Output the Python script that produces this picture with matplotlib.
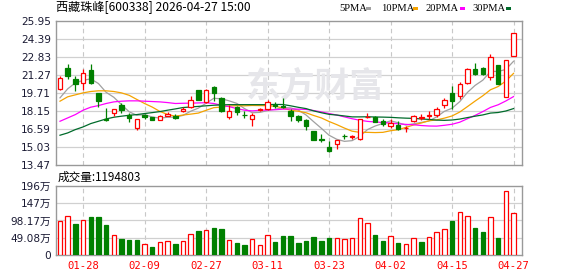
import matplotlib
matplotlib.use("Agg")
import matplotlib.pyplot as plt
import numpy as np

# ---------------- data ----------------
dates_labels = ["01-28", "02-09", "02-27", "03-11", "03-23", "04-02", "04-15", "04-27"]
label_idx = [3, 11, 19, 27, 35, 43, 51, 59]

opens = [20.07, 21.90, 20.94, 20.59, 21.72, 19.72, 17.49, 17.99, 18.68, 17.81,
         16.68, 17.78, 17.61, 17.41, 17.75, 17.75, 18.16, 18.51, 19.93, 18.91,
         20.19, 19.29, 17.61, 18.51, 17.84, 17.46, 18.27, 18.28, 18.68, 18.62,
         18.13, 17.70, 17.35, 16.45, 15.73, 15.00, 15.29, 16.01, 15.90, 15.73,
         17.61, 17.61, 17.26, 16.83, 16.94, 16.65, 17.32, 17.55, 17.70, 17.78,
         18.68, 19.72, 19.43, 20.59, 21.75, 21.84, 21.11, 22.10, 19.38, 22.91]
highs = [21.17, 22.19, 21.14, 21.81, 22.19, 19.72, 18.45, 18.33, 18.80, 17.99,
         17.49, 17.93, 17.61, 17.84, 18.04, 17.93, 18.51, 19.49, 20.01, 20.07,
         20.30, 19.38, 18.71, 18.62, 18.13, 17.99, 18.45, 19.14, 18.91, 19.29,
         18.28, 17.84, 17.46, 16.45, 16.16, 15.58, 15.61, 16.19, 16.10, 17.46,
         17.99, 17.75, 17.46, 17.46, 17.29, 16.89, 17.78, 17.90, 18.19, 18.51,
         19.29, 20.30, 20.68, 21.90, 22.33, 21.93, 23.05, 22.10, 22.59, 24.94]
lows = [19.96, 20.94, 19.87, 20.01, 20.53, 18.51, 17.26, 17.70, 17.96, 17.18,
        16.54, 17.49, 17.35, 17.35, 17.70, 17.49, 18.07, 18.39, 19.10, 18.86,
        18.99, 18.04, 17.49, 17.84, 17.55, 16.89, 18.13, 18.22, 18.42, 18.42,
        17.26, 17.20, 16.54, 15.61, 15.44, 14.57, 14.86, 15.73, 15.73, 15.61,
        17.52, 17.18, 16.89, 16.65, 16.54, 16.31, 17.23, 17.35, 17.46, 17.64,
        18.42, 18.28, 19.23, 20.53, 21.23, 21.29, 20.80, 20.53, 19.38, 22.91]
closes = [21.03, 21.17, 20.45, 21.46, 20.59, 18.99, 17.35, 18.33, 18.22, 17.52,
          17.46, 17.61, 17.35, 17.70, 17.93, 17.52, 18.36, 19.12, 19.10, 20.01,
          19.67, 18.13, 18.19, 18.04, 17.78, 17.84, 18.30, 18.97, 18.62, 18.51,
          17.70, 17.35, 16.89, 15.67, 15.64, 14.71, 15.61, 15.96, 15.99, 17.46,
          17.67, 17.18, 17.06, 17.12, 16.60, 16.71, 17.70, 17.67, 17.78, 18.33,
          19.12, 19.06, 20.53, 21.75, 21.40, 21.37, 22.85, 20.53, 22.59, 24.94]
volumes = [96.2, 110.0, 88.6, 99.0, 107.5, 107.5, 85.8, 56.6, 45.3, 42.4,
           42.4, 31.1, 22.6, 36.8, 39.6, 31.1, 39.6, 59.4, 67.9, 70.7,
           76.4, 73.6, 42.4, 33.9, 28.3, 45.3, 28.3, 56.6, 36.8, 53.7,
           53.7, 33.9, 39.6, 50.9, 39.6, 48.1, 48.1, 45.3, 48.1, 104.7,
           90.5, 56.6, 39.6, 53.7, 33.9, 31.1, 48.1, 36.8, 50.9, 65.1,
           73.6, 96.2, 121.6, 110.3, 76.4, 65.1, 107.5, 48.1, 181.0, 119.5]

ma5 = [19.29, 20.07, 20.59, 20.80, 20.94, 20.53, 19.77, 19.34, 18.70, 18.08,
       17.78, 17.83, 17.63, 17.53, 17.61, 17.62, 17.77, 18.13, 18.40, 18.82,
       19.25, 19.21, 19.03, 18.81, 18.36, 18.00, 18.03, 18.19, 18.30, 18.45,
       18.42, 18.23, 17.81, 17.22, 16.65, 16.05, 15.70, 15.52, 15.58, 15.95,
       16.54, 16.85, 17.07, 17.30, 17.13, 16.93, 17.04, 17.16, 17.29, 17.64,
       18.12, 18.39, 18.96, 19.76, 20.37, 20.82, 21.58, 21.58, 21.75, 22.46]
ma10 = [19.00, 19.38, 19.55, 19.72, 19.84, 19.90, 19.90, 19.84, 19.72, 19.51,
        19.15, 18.80, 18.49, 18.11, 17.85, 17.70, 17.80, 17.88, 17.97, 18.21,
        18.44, 18.49, 18.58, 18.61, 18.60, 18.63, 18.62, 18.61, 18.56, 18.41,
        18.21, 18.13, 18.00, 17.76, 17.55, 17.24, 16.97, 16.67, 16.40, 16.30,
        16.30, 16.28, 16.30, 16.44, 16.53, 16.73, 16.94, 17.11, 17.30, 17.38,
        17.53, 17.72, 18.06, 18.53, 19.01, 19.47, 19.99, 20.27, 20.75, 21.41]
ma20 = [17.26, 17.55, 17.84, 18.22, 18.48, 18.62, 18.80, 18.94, 19.00, 19.03,
        19.03, 19.00, 18.97, 18.94, 18.88, 18.80, 18.82, 18.83, 18.85, 18.87,
        18.80, 18.65, 18.53, 18.36, 18.22, 18.16, 18.21, 18.24, 18.26, 18.31,
        18.32, 18.31, 18.29, 18.19, 18.07, 17.93, 17.80, 17.64, 17.48, 17.35,
        17.25, 17.20, 17.15, 17.10, 17.04, 16.99, 16.96, 16.89, 16.85, 16.84,
        16.91, 17.00, 17.18, 17.48, 17.77, 18.10, 18.46, 18.69, 19.02, 19.40]
ma30 = [16.05, 16.25, 16.54, 16.77, 17.06, 17.26, 17.46, 17.61, 17.70, 17.78,
        17.84, 17.93, 18.01, 18.10, 18.22, 18.33, 18.45, 18.50, 18.55, 18.60,
        18.65, 18.68, 18.70, 18.70, 18.70, 18.70, 18.70, 18.70, 18.72, 18.71,
        18.60, 18.47, 18.36, 18.16, 18.00, 17.86, 17.80, 17.72, 17.64, 17.64,
        17.65, 17.63, 17.62, 17.60, 17.56, 17.53, 17.51, 17.46, 17.42, 17.36,
        17.34, 17.37, 17.45, 17.58, 17.70, 17.81, 17.97, 18.02, 18.15, 18.36]

price_ticks = [13.47, 15.03, 16.59, 18.15, 19.71, 21.27, 22.83, 24.39, 25.95]
vol_ticks = [0, 49.08, 98.17, 147.25, 196.33]
vol_tick_labels = ["0", "49.08万", "98.17万", "147万", "196万"]

title_text = "西藏珠峰[600338] 2026-04-27 15:00"
vol_text = "成交量:1194803"
watermark = "东方财富"
ma_names = ["5PMA", "10PMA", "20PMA", "30PMA"]

# ---------------- style ----------------
plt.rcParams['font.family'] = ['DejaVu Sans', 'Noto Sans CJK SC']
RED = "#ff0000"
GREEN = "#008000"
MA_COLORS = ["#a0a0a0", "#f5a300", "#ff00ff", "#006b2b"]
GRID = "#d0d0d0"
FRAME = "#999999"
TICKC = "#1a1a33"

W, H = 578, 276
fig = plt.figure(figsize=(W / 100, H / 100), dpi=100)

def fx(px):
    return px / W

def fy(py):
    return 1 - py / H

L, R = 56, 522
ax = fig.add_axes([fx(L), fy(165), fx(R - L), (165 - 21) / H])
axv = fig.add_axes([fx(L), fy(255), fx(R - L), (255 - 186) / H])

n = len(closes)
x = np.arange(n)
o = np.array(opens); c = np.array(closes); h = np.array(highs); l = np.array(lows)
up = c >= o
bw = 0.58

for a in (ax, axv):
    a.set_xlim(-0.52, 60.1)
    for s in a.spines.values():
        s.set_color(FRAME)
        s.set_linewidth(1.0)
    a.tick_params(length=0)
    for i in label_idx:
        a.axvline(i, color="#c8c8c8", lw=0.8, ls=(0, (4, 3)), zorder=0)

# price axis
ax.set_ylim(price_ticks[0], price_ticks[-1])
ax.set_yticks(price_ticks)
ax.set_yticklabels([f"{t:.2f}" for t in price_ticks], fontsize=7.6, color=TICKC)
ax.set_xticks([])
for t in price_ticks[1:-1]:
    ax.axhline(t, color=GRID, lw=0.9, zorder=0)

# watermark (inside price axes, behind marks)
ax.text(fx(315), fy(86.5), watermark, transform=fig.transFigure, fontsize=25,
        color="#e6e6ea", family=["Noto Sans CJK SC"], fontweight="bold",
        ha="center", va="center", zorder=0.5)

# moving averages
for ma, col in zip([ma5, ma10, ma20, ma30], MA_COLORS):
    ax.plot(x, ma, color=col, lw=0.9, zorder=2)

# candles
ax.vlines(x[up], l[up], h[up], color=RED, lw=0.9, zorder=3)
ax.vlines(x[~up], l[~up], h[~up], color=GREEN, lw=0.9, zorder=3)
body_lo = np.minimum(o, c)
body_h = np.maximum(np.abs(c - o), 0.03)
ax.bar(x[up], body_h[up], bottom=body_lo[up], width=bw, facecolor="white",
       edgecolor=RED, lw=0.9, zorder=4)
ax.bar(x[~up], body_h[~up], bottom=body_lo[~up], width=bw, facecolor=GREEN,
       edgecolor=GREEN, lw=0.9, zorder=4)

# volume axis
prev = np.concatenate([[o[0]], c[:-1]])
vup = c >= prev
v = np.array(volumes)
axv.set_ylim(0, vol_ticks[-1])
axv.set_yticks(vol_ticks)
axv.set_yticklabels(vol_tick_labels, fontsize=7.6, color=TICKC)
for t in vol_ticks[1:-1]:
    axv.axhline(t, color=GRID, lw=0.9, zorder=0)
axv.bar(x[vup], v[vup], width=bw, facecolor="white", edgecolor=RED, lw=0.9, zorder=3)
axv.bar(x[~vup], v[~vup], width=bw, facecolor=GREEN, edgecolor=GREEN, lw=0.9, zorder=3)
axv.set_xticks(label_idx)
axv.set_xticklabels(dates_labels, fontsize=7.6, color=RED, family=["DejaVu Sans Mono"])
axv.tick_params(axis="x", pad=4)

# title and legend texts
fig.text(fx(56), fy(8), title_text, fontsize=8.7, color="black",
         family=["Noto Sans CJK SC", "DejaVu Sans"], ha="left", va="center")
fig.text(fx(58), fy(177.5), vol_text, fontsize=8.4, color="black",
         family=["Noto Sans CJK SC", "DejaVu Sans"], ha="left", va="center")

leg_x = [339, 381, 426, 472]
sq_x = [366, 413, 460, 506]
for name, lx, sx, col in zip(ma_names, leg_x, sq_x, MA_COLORS):
    fig.text(fx(lx), fy(8.5), name, fontsize=7.6, color="black",
             family=["Liberation Serif"], ha="left", va="center")
    fig.patches.append(matplotlib.patches.Rectangle((fx(sx), fy(10)), fx(5), 3 / H,
                       transform=fig.transFigure, facecolor=col, edgecolor="none"))

fig.savefig("out.png", dpi=100)
